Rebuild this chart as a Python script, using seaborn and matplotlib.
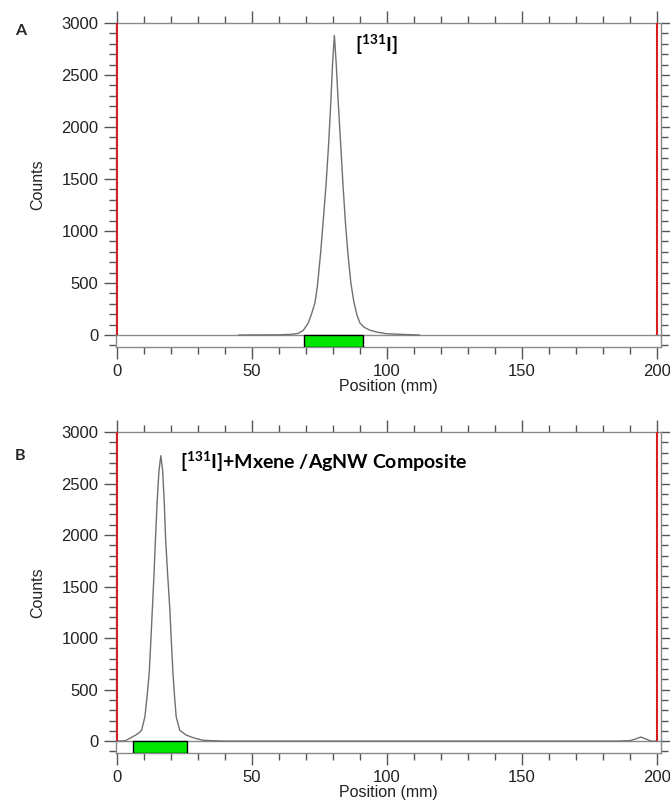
"""
Radio-TLC scans : [131I] libre vs [131I]+Mxene/AgNW composite
"""

import numpy as np
import pandas as pd
import matplotlib
matplotlib.use("Agg")
import matplotlib.pyplot as plt
import seaborn as sns
from matplotlib.patches import Rectangle
from matplotlib.ticker import MultipleLocator

# ─────────────────────────────────────────
# DONNÉES
# ─────────────────────────────────────────
pos_a = [45, 60, 64, 67, 69, 70.8, 72, 73.3, 74.2, 75.4, 76.4, 77.4, 78.4, 79.2,
         79.8, 80.5, 81.2, 81.9, 82.8, 83.7, 84.6, 85.5, 86.6, 87.8, 88.9, 90,
         91.5, 93.5, 96.3, 100, 112]
counts_a = [0, 2, 6, 15, 45, 115, 200, 308, 470, 788, 1110, 1440, 1850, 2250,
            2600, 2880, 2600, 2250, 1850, 1440, 1080, 788, 500, 308, 190, 115,
            75, 48, 28, 12, 0]

pos_b = [0, 3, 4.8, 7, 8.3, 9.1, 10.3, 11.1, 11.9, 12.5, 13.1, 13.7, 14.2, 14.8,
         15.5, 16.2, 16.9, 17.5, 18, 18.7, 19.5, 20.1, 20.7, 21.3, 21.9, 23.2,
         25.5, 28.7, 32, 40, 185, 190, 192, 194, 196, 198, 200]
counts_b = [0, 3, 29, 60, 85, 107, 236, 430, 660, 970, 1300, 1630, 1950, 2300,
            2620, 2770, 2620, 2300, 1950, 1630, 1300, 970, 660, 430, 236, 107,
            60, 29, 8, 0, 0, 5, 20, 40, 20, 0, 0]

# zones d'intégration (vert)
roi_a = (69.3, 91.0)
roi_b = (5.9, 26.0)

# limites de la plaque (traits rouges)
plate_limits = [0, 200]

labels = [r"[$\mathbf{^{131}}$I]", r"[$\mathbf{^{131}}$I]+Mxene /AgNW Composite"]
label_pos = [(88, 2790), (23.2, 2710)]
panel_letters = ["A", "B"]

# ─────────────────────────────────────────
# FIGURE
# ─────────────────────────────────────────
sns.set_style("white")
plt.rcParams['font.family'] = ['Liberation Sans', 'DejaVu Sans']
plt.rcParams['mathtext.fontset'] = 'custom'
plt.rcParams['mathtext.rm'] = 'Lato'
plt.rcParams['mathtext.bf'] = 'Lato:bold'

fig = plt.figure(figsize=(6.7, 8.06), dpi=100)
ax_a = fig.add_axes([116/670, 1 - 347/806, 545/670, 324/806])
ax_b = fig.add_axes([116/670, 1 - 753/806, 545/670, 321/806])

frames = [
    (ax_a, pd.DataFrame({"Position": pos_a, "Counts": counts_a}), roi_a),
    (ax_b, pd.DataFrame({"Position": pos_b, "Counts": counts_b}), roi_b),
]

y_bot = -115
for i, (ax, df, roi) in enumerate(frames):
    ax.axhline(0, color='#8a8a8a', lw=1.0, zorder=1)
    sns.lineplot(data=df, x="Position", y="Counts", ax=ax, color='#707070',
                 lw=1.0, zorder=2)
    ax.vlines(plate_limits, 0, 3000, color='#d42020', lw=1.5, zorder=3)
    ax.add_patch(Rectangle((roi[0], y_bot), roi[1] - roi[0], -y_bot,
                           facecolor='#00e600', edgecolor='black', lw=1.0, zorder=4))

    ax.set_xlim(-0.4, 201.5)
    ax.xaxis.set_major_locator(MultipleLocator(50))
    ax.xaxis.set_minor_locator(MultipleLocator(10))
    ax.yaxis.set_minor_locator(MultipleLocator(100))
    ax.set_yticks(np.arange(0, 3001, 500))
    ax.set_ylim(y_bot, 3000)

    ax.tick_params(which='both', direction='out', top=True, right=True,
                   bottom=True, left=True, color='#555555', width=1.0,
                   labelsize=12, labelcolor='#222222', pad=4)
    ax.tick_params(which='major', length=8.5)
    ax.tick_params(which='minor', length=5)
    ax.tick_params(which='both', labeltop=False, labelright=False)

    for sp in ax.spines.values():
        sp.set_color('#8a8a8a')
        sp.set_linewidth(1.0)

    ax.set_xlabel("Position (mm)", fontsize=11.5, labelpad=0, color='#222222')
    ax.set_ylabel("Counts", fontsize=11.5, labelpad=12, color='#222222')

    ax.text(label_pos[i][0], label_pos[i][1], labels[i], fontsize=14,
            fontweight='bold', family=['Lato', 'DejaVu Sans'], va='center',
            ha='left', color='black')

fig.text(15/670, 1 - 31/806, panel_letters[0], fontsize=11.5, fontweight='bold',
         family=['Lato', 'DejaVu Sans'], va='center')
fig.text(15/670, 1 - 456/806, panel_letters[1], fontsize=11.5, fontweight='bold',
         family=['Lato', 'DejaVu Sans'], va='center')

plt.savefig("out.png", dpi=100)
plt.close()
